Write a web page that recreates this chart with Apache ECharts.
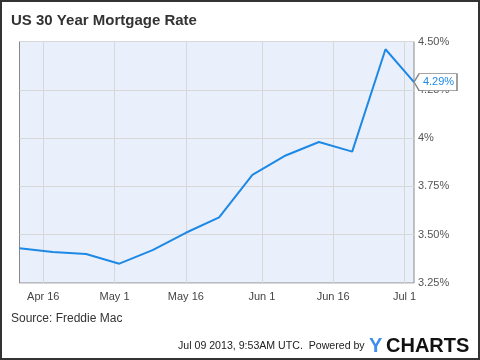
<!DOCTYPE html>
<html>
<head>
<meta charset="utf-8">
<script src="https://cdn.jsdelivr.net/npm/echarts@6/dist/echarts.min.js"></script>
<style>html,body{margin:0;padding:0;background:#fff}#c{width:480px;height:360px}</style>
</head>
<body>
<div id="c"></div>
<script>
var dates = ['2013-04-11','2013-04-18','2013-04-25','2013-05-02','2013-05-09','2013-05-16','2013-05-23','2013-05-30','2013-06-06','2013-06-13','2013-06-20','2013-06-27','2013-07-03'];
var rates = [3.43, 3.41, 3.40, 3.35, 3.42, 3.51, 3.59, 3.81, 3.91, 3.98, 3.93, 4.46, 4.29];
var tickDates = ['2013-04-16','2013-05-01','2013-05-16','2013-06-01','2013-06-16','2013-07-01'];
var tickLabels = ['Apr 16','May 1','May 16','Jun 1','Jun 16','Jul 1'];
var yTicks = [3.25, 3.5, 3.75, 4, 4.25, 4.5];
var yTickLabels = ['3.25%','3.50%','3.75%','4%','4.25%','4.50%'];

function ts(s){ var p = s.split('-'); return Date.UTC(+p[0], +p[1]-1, +p[2]); }
var tickTs = tickDates.map(ts);
var data = dates.map(function(d,i){ return [ts(d), rates[i]]; });
var last = data[data.length-1];
var FONT = 'Liberation Sans, Arial, sans-serif';

var chart = echarts.init(document.getElementById('c'), null, {renderer:'canvas'});
chart.setOption({
  animation:false,
  backgroundColor:'#fff',
  title:{text:'US 30 Year Mortgage Rate', left:11, top:13, padding:0,
    textStyle:{fontFamily:FONT, fontSize:15, fontWeight:'bold', color:'#333'}},
  grid:{left:19.5, right:66, top:41.5, bottom:77, show:true, backgroundColor:'#e9f0fc', borderColor:'#888', borderWidth:1},
  xAxis:{type:'value', min:ts(dates[0]), max:ts(dates[dates.length-1]),
    axisLine:{show:false}, axisTick:{show:false, customValues:tickTs},
    axisLabel:{customValues:tickTs, color:'#444', fontSize:11, fontFamily:FONT, margin:8,
      formatter:function(v){ var i = tickTs.indexOf(v); return i>=0 ? tickLabels[i] : ''; }},
    splitLine:{show:true, lineStyle:{color:'#d8d8d8', width:1}}
  },
  yAxis:{type:'value', position:'right', min:yTicks[0], max:yTicks[yTicks.length-1], interval:0.25,
    axisLine:{show:false}, axisTick:{show:false},
    axisLabel:{color:'#555', fontSize:11, fontFamily:FONT, margin:4,
      formatter:function(v){ var i = yTicks.indexOf(Math.round(v*100)/100); return i>=0 ? yTickLabels[i] : ''; }},
    splitLine:{show:true, lineStyle:{color:'#d8d8d8', width:1}}
  },
  series:[{type:'line', data:data, symbol:'none', z:20, lineStyle:{color:'#1e88e5', width:2}, itemStyle:{color:'#1e88e5'},
    markPoint:{z:50, symbol:'path://M0,8 L5,0 L42,0 L42,16 L5,16 Z', symbolSize:[43,17], symbolOffset:[21.5,0], symbolKeepAspect:false,
      itemStyle:{color:'#fff', borderColor:'#888', borderWidth:1},
      label:{show:true, position:'inside', offset:[3,0], color:'#1e88e5', fontSize:11, fontFamily:FONT,
        formatter:function(p){ return p.value.toFixed(2)+'%'; }},
      data:[{coord:last, value:last[1]}]
    }
  }],
  graphic:[
    {type:'rect', shape:{x:1, y:1, width:478, height:358}, style:{fill:'none', stroke:'#333', lineWidth:2}, silent:true, z:100},
    {type:'text', left:11, top:313, style:{text:'Source: Freddie Mac', fill:'#333', font:'12px ' + FONT}},
    {type:'text', left:178, top:341, style:{text:'Jul 09 2013, 9:53AM UTC.  Powered by', fill:'#222', font:'10.6px ' + FONT}},
    {type:'text', left:369, top:336, style:{text:'Y', fill:'#3d8ef0', font:'bold 20px ' + FONT}},
    {type:'text', left:386, top:336, style:{text:'CHARTS', fill:'#111', font:'bold 20px ' + FONT}}
  ]
});
</script>
</body>
</html>
